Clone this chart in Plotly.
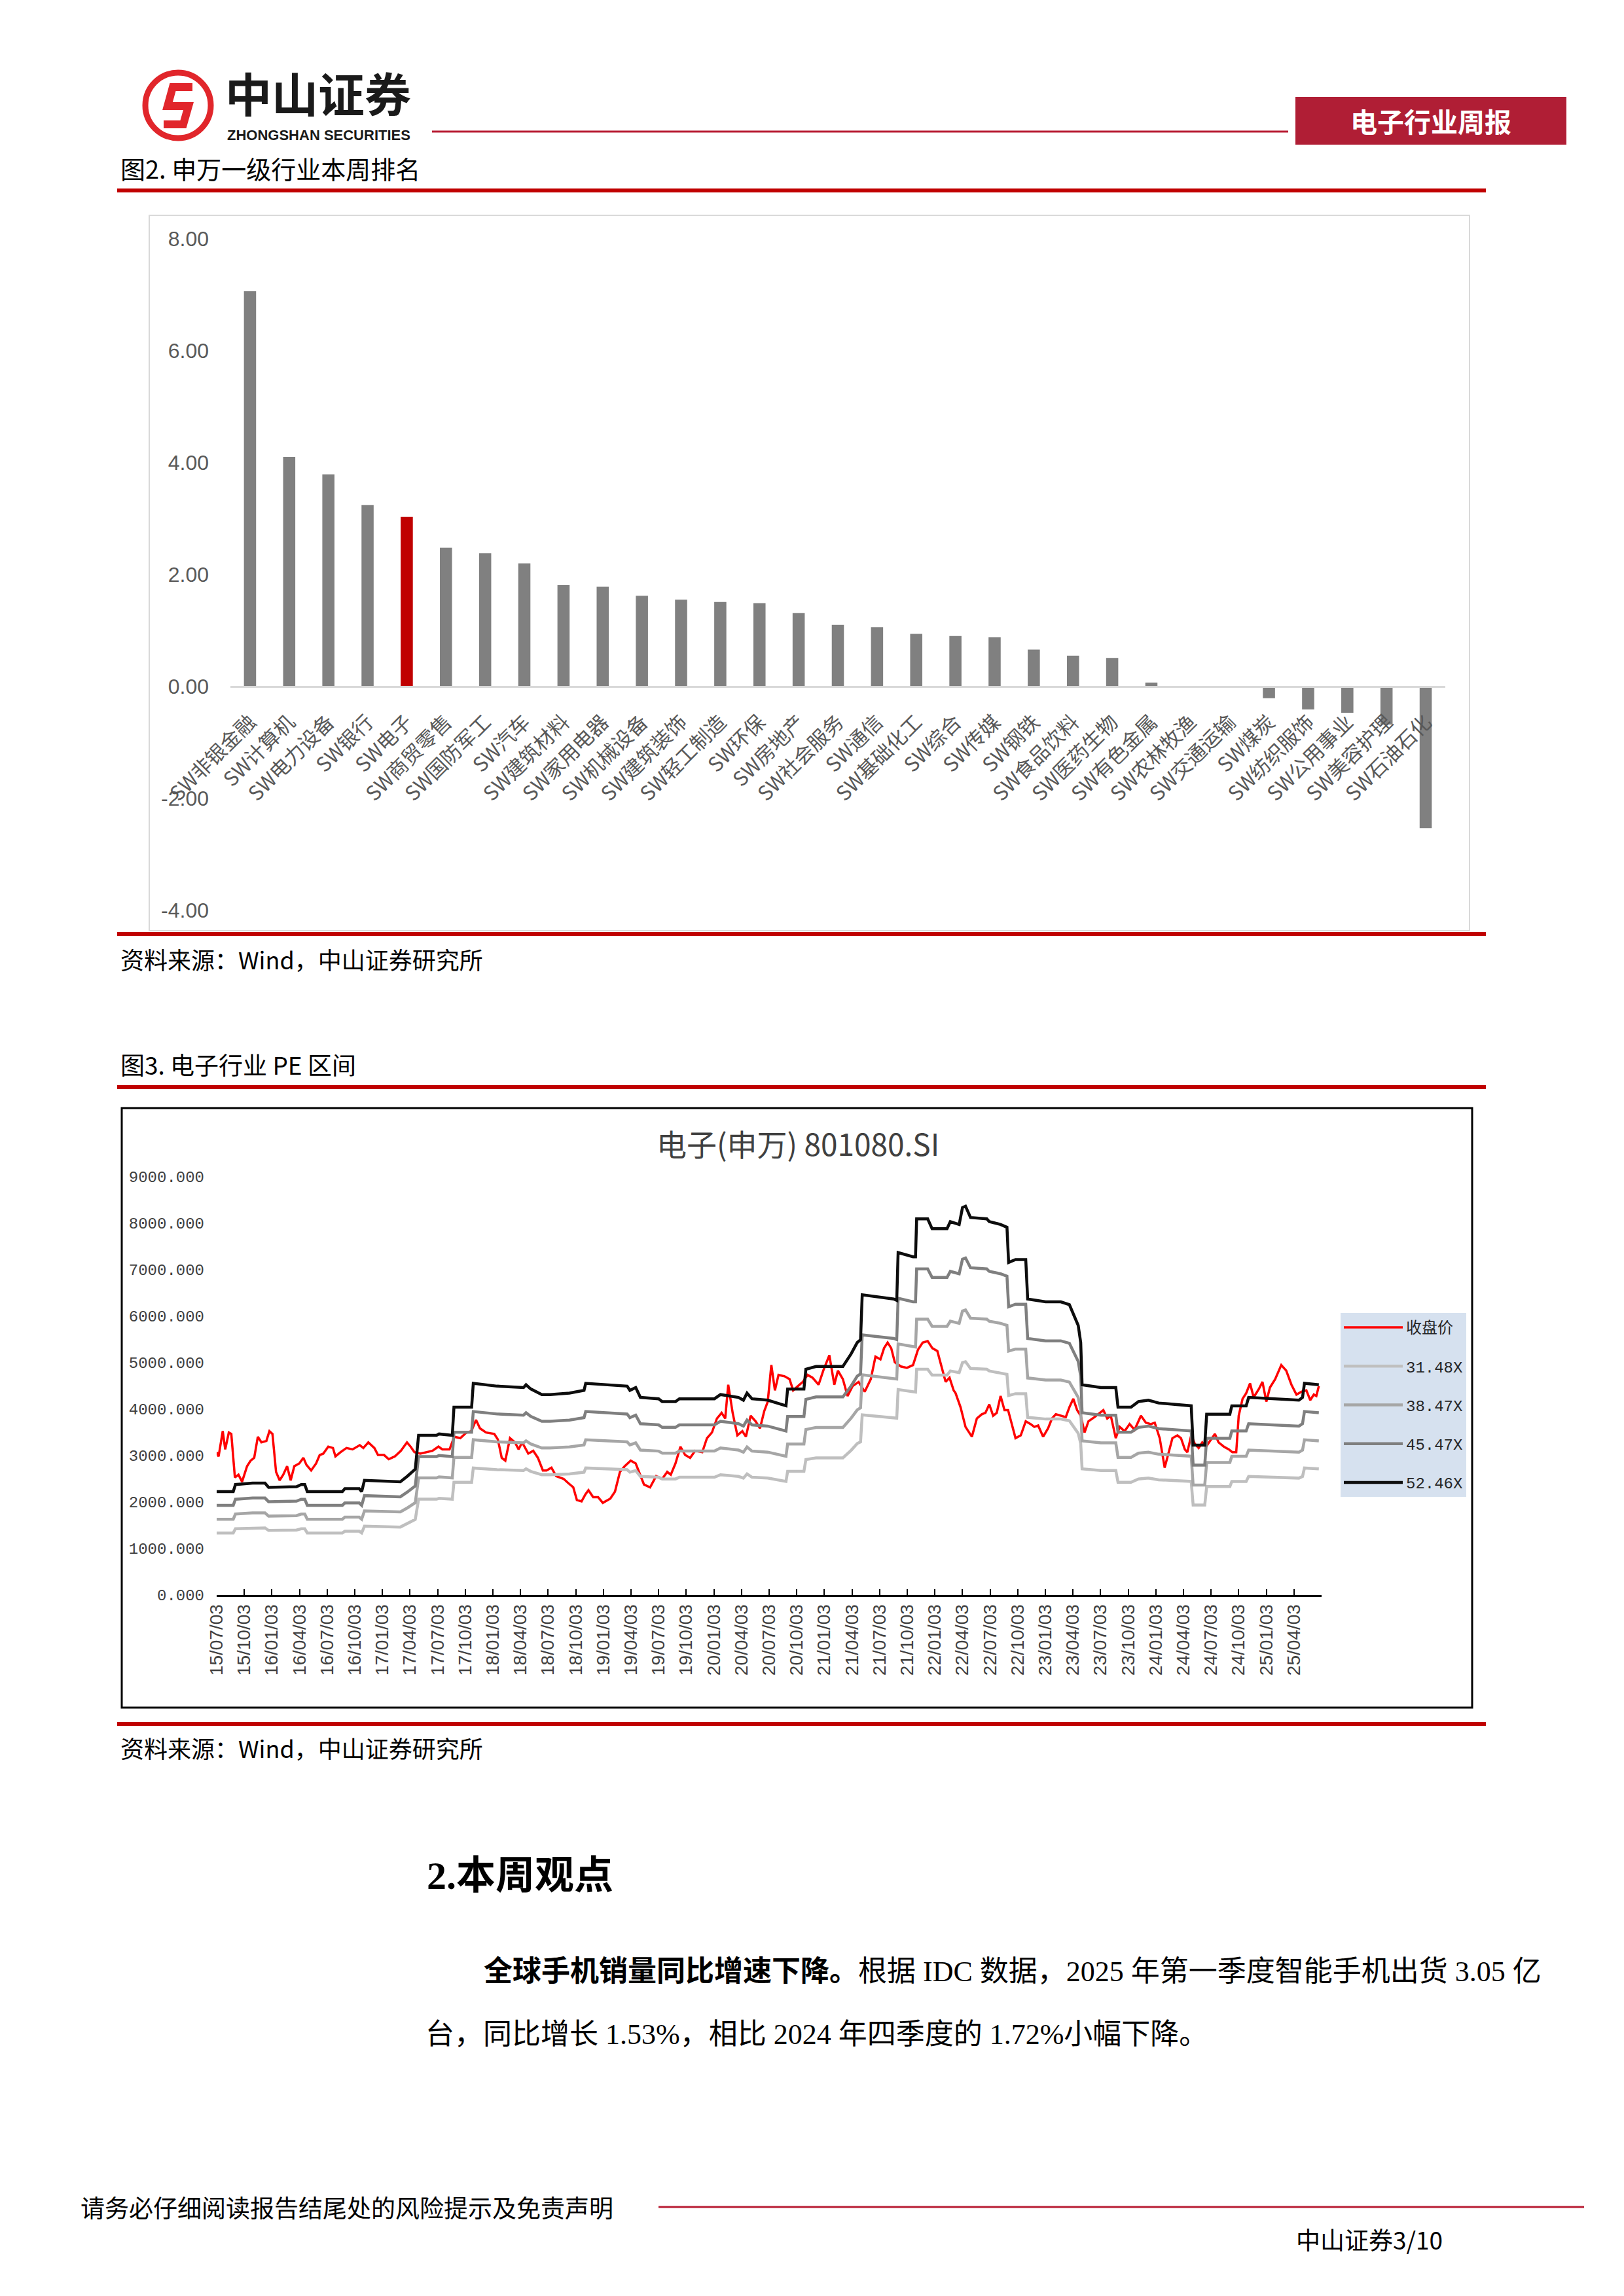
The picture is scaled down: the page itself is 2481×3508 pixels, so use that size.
import plotly.graph_objects as go

W, H = 2481, 3508

# ---------------- Figure 2 data: SW level-1 industries, weekly change (%) ----------------
industries = ["SW非银金融", "SW计算机", "SW电力设备", "SW银行", "SW电子", "SW商贸零售", "SW国防军工",
              "SW汽车", "SW建筑材料", "SW家用电器", "SW机械设备", "SW建筑装饰", "SW轻工制造", "SW环保",
              "SW房地产", "SW社会服务", "SW通信", "SW基础化工", "SW综合", "SW传媒", "SW钢铁",
              "SW食品饮料", "SW医药生物", "SW有色金属", "SW农林牧渔", "SW交通运输", "SW煤炭",
              "SW纺织服饰", "SW公用事业", "SW美容护理", "SW石油石化"]
weekly_change = [7.06, 4.10, 3.79, 3.24, 3.03, 2.48, 2.38, 2.20, 1.81, 1.78, 1.62, 1.55, 1.51, 1.49,
                 1.31, 1.10, 1.06, 0.94, 0.90, 0.88, 0.66, 0.55, 0.51, 0.07, 0.00, -0.01, -0.21,
                 -0.41, -0.47, -0.68, -2.53]
highlight_industry = "SW电子"
bar_ticks = [-4, -2, 0, 2, 4, 6, 8]
bar_tick_labels = ["-4.00", "-2.00", "0.00", "2.00", "4.00", "6.00", "8.00"]

# ---------------- Figure 3 data: 电子(申万) 801080.SI PE band ----------------
# x positions are measured in quarters since 2015-07-03 (one axis label per quarter)
quarter_labels = ["15/07/03", "15/10/03", "16/01/03", "16/04/03", "16/07/03", "16/10/03", "17/01/03",
                  "17/04/03", "17/07/03", "17/10/03", "18/01/03", "18/04/03", "18/07/03", "18/10/03",
                  "19/01/03", "19/04/03", "19/07/03", "19/10/03", "20/01/03", "20/04/03", "20/07/03",
                  "20/10/03", "21/01/03", "21/04/03", "21/07/03", "21/10/03", "22/01/03", "22/04/03",
                  "22/07/03", "22/10/03", "23/01/03", "23/04/03", "23/07/03", "23/10/03", "24/01/03",
                  "24/04/03", "24/07/03", "24/10/03", "25/01/03", "25/04/03"]
quarter_positions = list(range(len(quarter_labels)))

close_q = [0.00, 0.07, 0.22, 0.31, 0.44, 0.53, 0.66, 0.79, 0.92, 1.10,
           1.23, 1.36, 1.49, 1.62, 1.80, 1.91, 2.02, 2.15, 2.28, 2.41,
           2.55, 2.68, 2.81, 2.99, 3.14, 3.25, 3.42, 3.60, 3.73, 3.86,
           4.04, 4.21, 4.30, 4.48, 4.70, 4.92, 5.18, 5.31, 5.49, 5.71,
           5.84, 6.06, 6.23, 6.45, 6.67, 6.89, 7.02, 7.16, 7.37, 7.59,
           7.81, 8.03, 8.17, 8.43, 8.60, 8.82, 9.04, 9.22, 9.39, 9.53,
           9.75, 10.05, 10.18, 10.32, 10.45, 10.62, 10.80, 10.93, 11.06, 11.28,
           11.46, 11.63, 11.81, 11.94, 12.12, 12.29, 12.56, 12.73, 12.91, 13.04,
           13.21, 13.35,
           13.46, 13.63, 13.81, 13.98, 14.25, 14.42, 14.60, 14.77, 14.99, 15.17,
           15.30, 15.47, 15.69, 15.91, 16.13, 16.31, 16.44, 16.61, 16.79, 16.96,
           17.14, 17.32, 17.58, 17.75, 17.93, 18.11, 18.28, 18.41, 18.52, 18.68,
           18.85, 19.03, 19.16, 19.33, 19.51, 19.67, 19.82, 19.95, 20.08, 20.21,
           20.34, 20.56, 20.74, 20.87, 21.04, 21.22, 21.39, 21.57, 21.79, 21.96,
           22.18, 22.36, 22.49, 22.67, 22.84, 23.02, 23.24, 23.46, 23.68, 23.85,
           24.03, 24.16, 24.29, 24.42, 24.55, 24.77, 24.99, 25.21, 25.39, 25.56,
           25.74, 25.91, 26.09, 26.22, 26.39, 26.53, 26.68,
           26.75, 26.93, 27.11, 27.34, 27.52, 27.70, 27.83, 27.97, 28.11, 28.24,
           28.38, 28.52, 28.65, 28.79, 28.92, 29.11, 29.29, 29.47, 29.60, 29.74,
           29.92, 30.10, 30.24, 30.38, 30.56, 30.74, 30.87, 31.01, 31.15, 31.28,
           31.42, 31.56, 31.78, 31.96, 32.10, 32.24, 32.37, 32.55, 32.69, 32.87,
           33.05, 33.23, 33.46, 33.64, 33.82, 33.96, 34.14, 34.32, 34.46, 34.60,
           34.78, 34.91, 35.05, 35.14, 35.28, 35.41, 35.55, 35.68, 35.82, 35.96,
           36.14, 36.27, 36.46, 36.64, 36.77, 36.91, 37.00, 37.14, 37.27, 37.41,
           37.54, 37.73, 37.86, 38.00, 38.13, 38.32, 38.54, 38.72, 38.91, 39.09,
           39.27, 39.45, 39.59, 39.72, 39.81, 39.90]
close_price = [3073, 2983, 3527, 3134, 3497, 3467, 2529, 2589, 2438, 2771,
               2892, 2952, 3406, 3285, 3315, 3527, 3467, 2650, 2468, 2589,
               2771, 2468, 2771, 2831, 2952, 2801, 2680, 2831, 3013, 3043,
               3194, 3164, 2983, 3073, 3164, 3134, 3225, 3164, 3285, 3164,
               3013, 3013, 2922, 2983, 3104, 3285, 3194, 3073, 3043, 3073,
               3104, 3194, 3134, 3134, 3406, 3376, 3497, 3527, 3769, 3588,
               3497, 3467, 3346, 2952, 2892, 3376, 3285, 3134, 3285, 3043,
               3104, 2952, 2680, 2680, 2741, 2559, 2499, 2408, 2317, 2045,
               2015, 2166,
               2257, 2105, 2105, 1984, 2075, 2226, 2650, 2771, 2892, 2831,
               2620, 2378, 2317, 2559, 2499, 2650, 2589, 2831, 3194, 3013,
               2952, 3104, 3073, 3376, 3497, 3799, 3920, 3799, 4525, 3920,
               3436, 3527, 3406, 3859, 3739, 3588, 3951, 4162, 4949, 4404,
               4737, 4707, 4646, 4404, 4495, 4586, 4737, 4677, 4525, 4828,
               5161, 4525, 4828, 4646, 4283, 4495, 4586, 4374, 4646, 5130,
               5070, 5312, 5433, 5312, 5009, 4919, 4888, 4949, 5282, 5433,
               5463, 5312, 5251, 4949, 4586, 4677, 4404,
               4344, 4041, 3618, 3406, 3799, 3890, 3920, 4102, 3859, 3920,
               4283, 3980, 3980, 3678, 3376, 3436, 3739, 3678, 3618, 3648,
               3406, 3588, 3799, 3890, 3859, 3829, 4041, 4223, 3980, 3859,
               3497, 3739, 3829, 3920, 3980, 3799, 3859, 3376, 3618, 3527,
               3678, 3557, 3859, 3709, 3678, 3709, 3376, 2741, 3073, 3376,
               3436, 3376, 3134, 3073, 3436, 3255, 3164, 3285, 3194, 3315,
               3467, 3285, 3194, 3134, 3073, 3073, 3859, 4223, 4344, 4556,
               4253, 4434, 4586, 4162, 4465, 4646, 4949, 4828, 4525, 4314,
               4374, 4404, 4193, 4314, 4283, 4495]

band_q = [0.00, 0.60, 0.68, 1.30, 1.75, 1.88, 2.89, 3.06, 3.19, 3.28,
          4.55, 4.64, 5.16, 5.25, 5.35, 6.65, 6.91, 7.19, 7.31, 7.96,
          8.05, 8.53, 8.59, 9.23, 9.29, 10.15, 11.11, 11.20, 11.37, 11.77,
          12.07, 12.77, 13.30, 13.36, 14.86, 14.96, 15.17, 15.34, 16.00, 16.13,
          16.61, 16.75, 18.02, 18.24, 18.89, 19.07, 19.20, 19.38, 19.95, 20.61,
          20.67, 21.26, 21.33, 21.70, 22.67, 22.97, 23.19, 23.31, 23.37, 24.51,
          24.62, 24.67, 25.21, 25.30, 25.34, 25.74, 25.90, 26.44, 26.56, 26.88,
          27.00, 27.11, 27.29, 27.88, 27.97, 28.38, 28.61, 28.67, 28.92, 29.29,
          29.36, 30.01, 30.56, 30.87, 31.19, 31.28, 31.33, 32.01, 32.55, 32.63,
          33.10, 33.37, 33.73, 34.10, 35.28, 35.35, 35.77, 35.84, 36.68, 36.75,
          37.27, 37.36, 39.18, 39.31, 39.38, 39.90]
band_52_46x = [2226, 2226, 2377, 2408, 2408, 2317, 2330, 2377, 2377, 2226,
               2226, 2287, 2287, 2226, 2468, 2438, 2560, 2710, 3436, 3436,
               3466, 3436, 4041, 4041, 4556, 4495, 4465, 4525, 4435, 4314,
               4314, 4344, 4404, 4556, 4495, 4404, 4465, 4253, 4223, 4162,
               4162, 4223, 4223, 4314, 4253, 4193, 4344, 4223, 4193, 4072,
               4434, 4434, 4858, 4918, 4918, 5191, 5433, 5493, 6461, 6370,
               6340, 7369, 7278, 7278, 8095, 8095, 7883, 7883, 8035, 7974,
               8337, 8367, 8125, 8095, 8035, 7974, 7914, 7157, 7218, 7218,
               6370, 6310, 6310, 6250, 5800, 5433, 4525, 4465, 4465, 4041,
               4041, 4162, 4193, 4132, 4072, 3225, 3225, 3890, 3890, 4072,
               4072, 4253, 4193, 4253, 4556, 4525]
band_45_47x = [1930, 1930, 2060, 2087, 2087, 2008, 2020, 2060, 2060, 1930,
               1930, 1982, 1982, 1930, 2139, 2113, 2219, 2349, 2978, 2978,
               3004, 2978, 3503, 3503, 3949, 3896, 3870, 3922, 3844, 3739,
               3739, 3765, 3817, 3949, 3896, 3817, 3870, 3687, 3661, 3608,
               3608, 3661, 3661, 3739, 3687, 3635, 3765, 3661, 3635, 3530,
               3843, 3843, 4211, 4263, 4263, 4500, 4709, 4761, 5600, 5522,
               5496, 6387, 6309, 6309, 7017, 7017, 6833, 6833, 6965, 6912,
               7227, 7253, 7043, 7017, 6965, 6912, 6860, 6204, 6257, 6257,
               5522, 5470, 5470, 5418, 5027, 4709, 3922, 3870, 3870, 3503,
               3503, 3608, 3635, 3582, 3530, 2795, 2795, 3372, 3372, 3530,
               3530, 3687, 3635, 3687, 3949, 3922]
band_38_47x = [1632, 1632, 1743, 1766, 1766, 1699, 1709, 1743, 1743, 1632,
               1632, 1677, 1677, 1632, 1810, 1788, 1877, 1987, 2520, 2520,
               2542, 2520, 2963, 2963, 3341, 3296, 3274, 3318, 3252, 3164,
               3164, 3186, 3230, 3341, 3296, 3230, 3274, 3119, 3097, 3052,
               3052, 3097, 3097, 3164, 3119, 3075, 3186, 3097, 3075, 2986,
               3251, 3251, 3562, 3606, 3606, 3807, 3984, 4028, 4738, 4671,
               4649, 5404, 5337, 5337, 5936, 5936, 5781, 5781, 5892, 5847,
               6114, 6136, 5958, 5936, 5892, 5847, 5803, 5248, 5293, 5293,
               4671, 4627, 4627, 4583, 4253, 3984, 3318, 3274, 3274, 2963,
               2963, 3052, 3075, 3030, 2986, 2365, 2365, 2853, 2853, 2986,
               2986, 3119, 3075, 3119, 3341, 3318]
band_31_48x = [1336, 1336, 1426, 1445, 1445, 1390, 1398, 1426, 1426, 1336,
               1336, 1372, 1372, 1336, 1481, 1463, 1536, 1626, 2062, 2062,
               2080, 2062, 2425, 2425, 2734, 2697, 2679, 2716, 2661, 2589,
               2589, 2607, 2643, 2734, 2697, 2643, 2679, 2552, 2534, 2498,
               2498, 2534, 2534, 2589, 2552, 2516, 2607, 2534, 2516, 2444,
               2661, 2661, 2915, 2951, 2951, 3115, 3260, 3296, 3877, 3823,
               3805, 4422, 4368, 4368, 4858, 4858, 4731, 4731, 4822, 4785,
               5003, 5021, 4876, 4858, 4822, 4785, 4749, 4295, 4332, 4332,
               3823, 3787, 3787, 3751, 3481, 3260, 2716, 2679, 2679, 2425,
               2425, 2498, 2516, 2480, 2444, 1935, 1935, 2334, 2334, 2444,
               2444, 2552, 2516, 2552, 2734, 2716]
line_ticks = [0, 1000, 2000, 3000, 4000, 5000, 6000, 7000, 8000, 9000]

band_series = [("31.48X", band_31_48x, "#bfbfbf"),
               ("38.47X", band_38_47x, "#a6a6a6"),
               ("45.47X", band_45_47x, "#7f7f7f"),
               ("52.46X", band_52_46x, "#0d0d0d")]


# ---------------- helpers for page layout (page pixel -> paper fraction) ----------------
# the page body has a default 8px margin, so the figure origin sits 8px in from the window corner
OFF = 8


def px(x):
    return (x - OFF) / W


def py(y):
    return 1 - (y - OFF) / H


CJK = "Noto Sans CJK SC"

fig = go.Figure()

# Figure 2 bars
bar_colors = ["#c00000" if name == highlight_industry else "#808080" for name in industries]
fig.add_trace(go.Bar(x=industries, y=weekly_change, marker=dict(color=bar_colors, line=dict(width=0)),
                     xaxis="x", yaxis="y", showlegend=False))

# Figure 3 lines
fig.add_trace(go.Scatter(x=close_q, y=close_price, mode="lines", name="收盘价",
                         line=dict(color="#ff0000", width=3.5), xaxis="x2", yaxis="y2",
                         legendgroup="g0"))
for i, (name, vals, col) in enumerate(band_series):
    fig.add_trace(go.Scatter(x=band_q, y=vals, mode="lines", name=name,
                             line=dict(color=col, width=4.5), xaxis="x2", yaxis="y2",
                             legendgroup="g%d" % (i + 1)))

shapes = []
red = "#c00000"
crimson = "#b81d33"
# header
shapes.append(dict(type="line", xref="paper", yref="paper", x0=px(660), x1=px(1968), y0=py(201), y1=py(201),
                   line=dict(color=crimson, width=3)))
shapes.append(dict(type="rect", xref="paper", yref="paper", x0=px(1979), x1=px(2393), y0=py(221), y1=py(148),
                   line=dict(width=0), fillcolor="#b01e35"))
# logo
shapes.append(dict(type="circle", xref="paper", yref="paper", x0=px(222), x1=px(322), y0=py(211), y1=py(111),
                   line=dict(color="#e1262b", width=9), fillcolor="white"))
logo_pts = [(294, 133), (264, 133), (256, 162), (288, 162), (280, 190), (250, 190)]
logo_path = "M " + " L ".join("%f,%f" % (px(a), py(b)) for a, b in logo_pts)
shapes.append(dict(type="path", xref="paper", yref="paper", path=logo_path,
                   line=dict(color="#e1262b", width=12)))
# section separators
for yy in (291, 1427, 1661, 2634):
    shapes.append(dict(type="line", xref="paper", yref="paper", x0=px(179), x1=px(2270), y0=py(yy), y1=py(yy),
                       line=dict(color=red, width=6)))
# chart frames
shapes.append(dict(type="rect", xref="paper", yref="paper", x0=px(228), x1=px(2245), y0=py(1422), y1=py(329),
                   line=dict(color="#d9d9d9", width=2), layer="below"))
shapes.append(dict(type="rect", xref="paper", yref="paper", x0=px(186), x1=px(2249), y0=py(2609), y1=py(1693),
                   line=dict(color="black", width=3), layer="below"))
# footer line
shapes.append(dict(type="line", xref="paper", yref="paper", x0=px(1006), x1=px(2420), y0=py(3372), y1=py(3372),
                   line=dict(color=crimson, width=3)))


def note(text, x, y, size, color="black", anchor="left", family=CJK, yanchor="middle"):
    return dict(text=text, xref="paper", yref="paper", x=px(x), y=py(y), xanchor=anchor, yanchor=yanchor,
                align="left", showarrow=False, borderpad=0,
                font=dict(family=family, size=size, color=color))


annotations = [
    note("<b>中山证券</b>", 343, 192, 71, color="#1a1a1a", yanchor="bottom"),
    note("<b>ZHONGSHAN SECURITIES</b>", 346, 193, 22, color="#1a1a1a", family="Liberation Sans",
         yanchor="top"),
    note("<b>电子行业周报</b>", 2186, 184, 41, color="white", anchor="center"),
    note("图2. 申万一级行业本周排名", 183, 257, 38),
    note("资料来源：Wind，中山证券研究所", 183, 1465, 36),
    note("图3. 电子行业 PE 区间", 183, 1626, 37),
    note("电子(申万) 801080.SI", 1219, 1746, 46, color="#404040", anchor="center"),
    note("资料来源：Wind，中山证券研究所", 183, 2670, 36),
    note("<b>2.本周观点</b>", 651, 2866, 60, family="Liberation Serif, " + CJK),
    note("<b>全球手机销量同比增速下降。</b>根据 IDC 数据，2025 年第一季度智能手机出货 3.05 亿",
         738, 3012, 44, family="Liberation Serif, " + CJK),
    note("台，同比增长 1.53%，相比 2024 年四季度的 1.72%小幅下降。", 649, 3108, 44,
         family="Liberation Serif, " + CJK),
    note("请务必仔细阅读报告结尾处的风险提示及免责声明", 122, 3372, 37),
    note("中山证券3/10", 1979, 3421, 37),
]

fig.update_layout(
    width=W, height=H, margin=dict(l=0, r=0, t=0, b=0),
    paper_bgcolor="white", plot_bgcolor="rgba(0,0,0,0)",
    template="none",
    bargap=0.69,
    shapes=shapes, annotations=annotations,
    xaxis=dict(domain=[px(352), px(2208)], anchor="free", position=py(1049), type="category",
               showline=True, linecolor="#d9d9d9", linewidth=3, showgrid=False, zeroline=False,
               ticks="", tickangle=-45, tickfont=dict(family=CJK, size=31, color="#595959"),
               ticklabelstandoff=22, automargin=False),
    yaxis=dict(domain=[py(1391), py(364.5)], anchor="x", range=[-4, 8], tickvals=bar_ticks,
               ticktext=bar_tick_labels, showgrid=False, zeroline=False, showline=False, ticks="",
               tickfont=dict(family="Liberation Sans Narrow, Liberation Sans", size=32, color="#595959"),
               ticklabelstandoff=32, automargin=False),
    xaxis2=dict(domain=[px(331), px(2019)], anchor="y2", range=[0, 40], tickvals=quarter_positions,
                ticktext=quarter_labels, tickangle=-90, ticks="inside", ticklen=9, tickwidth=2,
                tickcolor="black", showline=True, linecolor="black", linewidth=3, showgrid=False,
                zeroline=False, tickfont=dict(family="Liberation Sans", size=28, color="#404040"),
                automargin=False),
    yaxis2=dict(domain=[py(2437), py(1798)], anchor="x2", range=[0, 9000], tickvals=line_ticks,
                tickformat=".3f", showgrid=False, zeroline=False, showline=False, ticks="",
                tickfont=dict(family="Liberation Mono", size=24, color="#404040"),
                ticklabelstandoff=18, automargin=False),
    legend=dict(x=px(2048), y=py(2006), xanchor="left", yanchor="top", bgcolor="#d6e1ef",
                font=dict(family="Liberation Mono, " + CJK, size=24, color="#262626"),
                itemwidth=90, tracegroupgap=25, borderwidth=0),
    showlegend=True,
)

fig.write_html("out.html")
